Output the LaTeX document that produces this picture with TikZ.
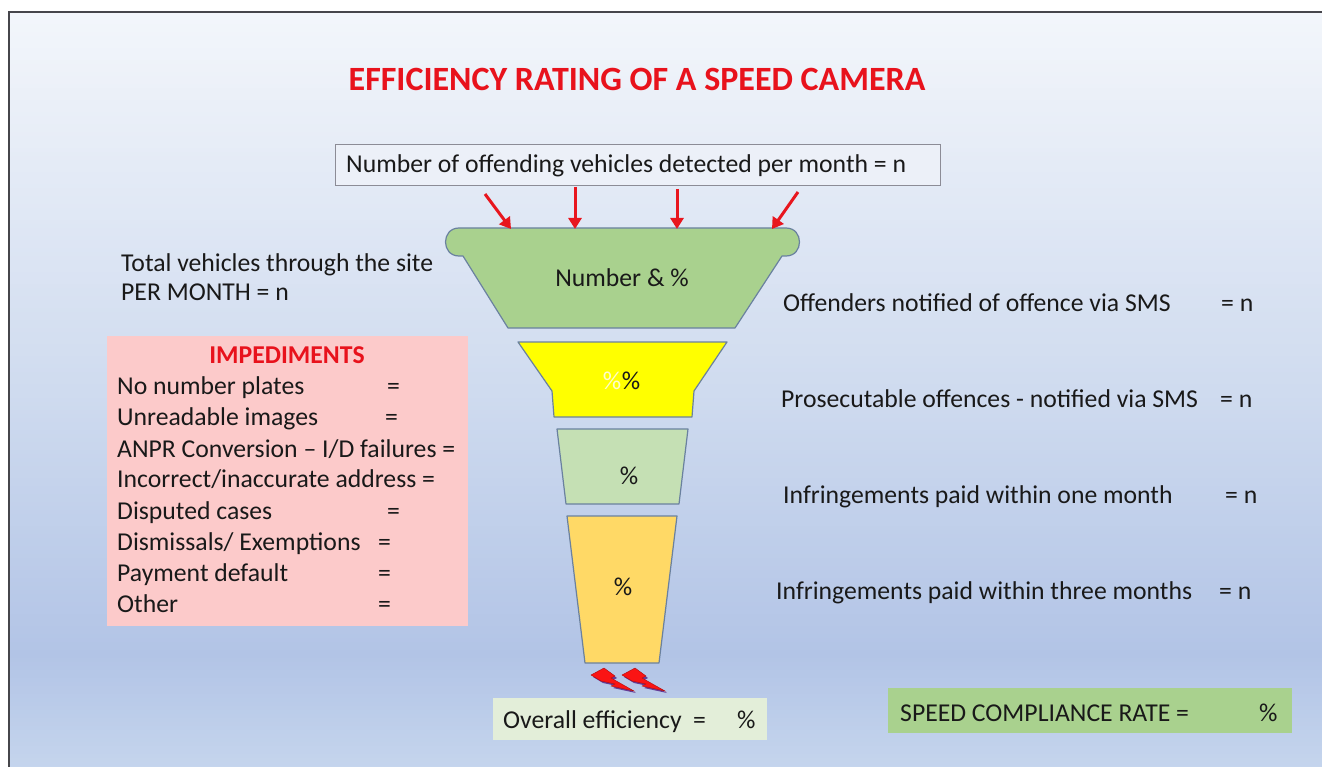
\documentclass[tikz,border=0pt]{standalone}
\usepackage{fontspec}
\setmainfont{Carlito}
\usetikzlibrary{arrows.meta}
\definecolor{bgtop}{RGB}{243,246,251}
\definecolor{bgmid}{RGB}{207,219,239}
\definecolor{bgdeep}{RGB}{178,196,230}
\definecolor{bgbot}{RGB}{197,213,237}
\definecolor{framecol}{RGB}{70,70,75}
\definecolor{titlered}{RGB}{232,18,28}
\definecolor{arrowred}{RGB}{232,22,30}
\definecolor{topboxfill}{RGB}{236,240,248}
\definecolor{topboxline}{RGB}{140,140,150}
\definecolor{funnelline}{RGB}{106,129,159}
\definecolor{greenA}{RGB}{169,209,142}
\definecolor{yellowA}{RGB}{255,255,0}
\definecolor{greenB}{RGB}{197,224,180}
\definecolor{orangeA}{RGB}{255,217,102}
\definecolor{pinkA}{RGB}{252,202,202}
\definecolor{overallfill}{RGB}{227,238,217}
\definecolor{boltred}{RGB}{250,20,20}
\definecolor{boltshadow}{RGB}{100,60,150}
\definecolor{txtcol}{RGB}{25,25,25}
\tikzset{
  txt/.style={inner sep=0pt, anchor=base west, text=txtcol, font=\fontsize{25.7}{30}\selectfont},
  ctxt/.style={inner sep=0pt, anchor=base, text=txtcol, font=\fontsize{25.7}{30}\selectfont},
  funnel/.style={draw=funnelline, line width=1.2pt, line join=round},
  redarrow/.style={draw=arrowred, line width=3pt, -{Triangle[length=11pt,width=13pt]}},
  bolt/.style={fill=boltred, draw=boltred!70!black, line width=0.4pt},
  boltshade/.style={fill=boltshadow, draw=none}
}
\begin{document}
\begin{tikzpicture}[x=1pt,y=-1pt]
\useasboundingbox (0,0) rectangle (1322,767);
\fill[white] (0,0) rectangle (1322,767);
% background gradient as strips
\foreach \y in {12,16,...,388}{
  \pgfmathtruncatemacro{\p}{100-(\y-12)/378*100}
  \fill[bgtop!\p!bgmid] (9,\y) rectangle (1322,\y+4.5);
}
\foreach \y in {390,394,...,650}{
  \pgfmathtruncatemacro{\p}{100-(\y-390)/264*100}
  \fill[bgmid!\p!bgdeep] (9,\y) rectangle (1322,\y+4.5);
}
\foreach \y in {654,658,...,766}{
  \pgfmathtruncatemacro{\p}{100-(\y-654)/113*100}
  \fill[bgdeep!\p!bgbot] (9,\y) rectangle (1322,\y+4.5);
}
\draw[framecol, line width=1.6pt] (9,767) -- (9,12) -- (1322,12);

% title
\node[inner sep=0pt, anchor=base, text=titlered, font=\fontsize{34}{40}\selectfont\bfseries] (title) at (637,91) {EFFICIENCY RATING OF A SPEED CAMERA};

% top box
\node[draw=topboxline, fill=topboxfill, line width=1pt, minimum width=605pt, minimum height=41pt, inner sep=0pt] (topbox) at (637.5,165.5) {};
\node[txt] (toptext) at (346,173) {Number of offending vehicles detected per month = n};

% funnel shapes
\draw[funnel, fill=greenA] (463,256) -- (508,328) -- (735,328) -- (782,256) -- (786,256)
  .. controls (804,256) and (804,228) .. (786,228) -- (459,228)
  .. controls (441,228) and (441,256) .. (459,256) -- cycle;
\draw[funnel, fill=yellowA] (518,342) -- (727,342) -- (694,391) -- (692,417) -- (554,417) -- (552,391) -- cycle;
\draw[funnel, fill=greenB] (557,429) -- (688,429) -- (679,504) -- (566,504) -- cycle;
\draw[funnel, fill=orangeA] (567,516) -- (677,516) -- (659,663) -- (585,663) -- cycle;

\node[ctxt] (s1) at (622,287) {Number \& \%};
\node[ctxt, text=white!80!yellow] (s2a) at (612,389) {\%};
\node[ctxt] (s2b) at (631,389) {\%};
\node[ctxt] (s3) at (629,484) {\%};
\node[ctxt] (s4) at (623,595) {\%};

% arrows into funnel
\coordinate (a1s) at (485,194);
\coordinate (a1e) at (511,229);
\coordinate (a2s) at (575,187);
\coordinate (a2e) at (575,229);
\coordinate (a3s) at (677,189);
\coordinate (a3e) at (677,229);
\coordinate (a4s) at (798,192);
\coordinate (a4e) at (772,229);
\draw[redarrow] (a1s) -- (a1e);
\draw[redarrow] (a2s) -- (a2e);
\draw[redarrow] (a3s) -- (a3e);
\draw[redarrow] (a4s) -- (a4e);

% lightning bolts
\foreach \dx in {0,31}{
  \begin{scope}[shift={(\dx,0)}]
    \fill[boltshade] (593,677) -- (606,670) -- (617,678) -- (613,680) -- (636,693) -- (613,688) -- (617,686) -- (603,683) -- cycle;
    \draw[bolt] (591,675) -- (604,668) -- (615,676) -- (611,678) -- (634,691) -- (611,686) -- (615,684) -- (601,681) -- cycle;
  \end{scope}
}

% left text
\node[txt] (tot1) at (121,272) {Total vehicles through the site};
\node[txt] (tot2) at (121,301) {PER MONTH = n};

% impediments box
\node[fill=pinkA, minimum width=361pt, minimum height=290pt, inner sep=0pt] (impbox) at (287.5,481) {};
\node[inner sep=0pt, anchor=base, text=titlered, font=\fontsize{25.7}{30}\selectfont\bfseries] (imphead) at (287,363) {IMPEDIMENTS};
\node[txt] (i1) at (117,394) {No number plates};
\node[txt] (i1e) at (387,394) {=};
\node[txt] (i2) at (117,425) {Unreadable images};
\node[txt] (i2e) at (385,425) {=};
\node[txt] (i3) at (117,457) {ANPR Conversion -- I/D failures =};
\node[txt] (i4) at (117,487) {Incorrect/inaccurate address =};
\node[txt] (i5) at (117,519) {Disputed cases};
\node[txt] (i5e) at (387,519) {=};
\node[txt] (i6) at (117,550) {Dismissals/ Exemptions};
\node[txt] (i6e) at (378,550) {=};
\node[txt] (i7) at (117,581) {Payment default};
\node[txt] (i7e) at (378,581) {=};
\node[txt] (i8) at (117,612) {Other};
\node[txt] (i8e) at (378,612) {=};

% right texts
\node[txt] (r1) at (783,311) {Offenders notified of offence via SMS};
\node[txt] (r1e) at (1221,311) {= n};
\node[txt] (r2) at (781,407) {Prosecutable offences - notified via SMS};
\node[txt] (r2e) at (1220,407) {= n};
\node[txt] (r3) at (783,503) {Infringements paid within one month};
\node[txt] (r3e) at (1225,503) {= n};
\node[txt] (r4) at (776,599) {Infringements paid within three months};
\node[txt] (r4e) at (1219,599) {= n};

% bottom boxes
\node[fill=overallfill, minimum width=274pt, minimum height=42pt, inner sep=0pt] (overbox) at (630,719) {};
\node[txt] (over1) at (503,728) {Overall efficiency};
\node[txt] (over2) at (693,728) {=};
\node[txt] (over3) at (737,728) {\%};

\node[fill=greenA, minimum width=404pt, minimum height=45pt, inner sep=0pt] (speedbox) at (1090,710.5) {};
\node[txt] (sp1) at (900,721) {SPEED COMPLIANCE RATE =};
\node[txt] (sp2) at (1259,721) {\%};
\end{tikzpicture}
\end{document}
